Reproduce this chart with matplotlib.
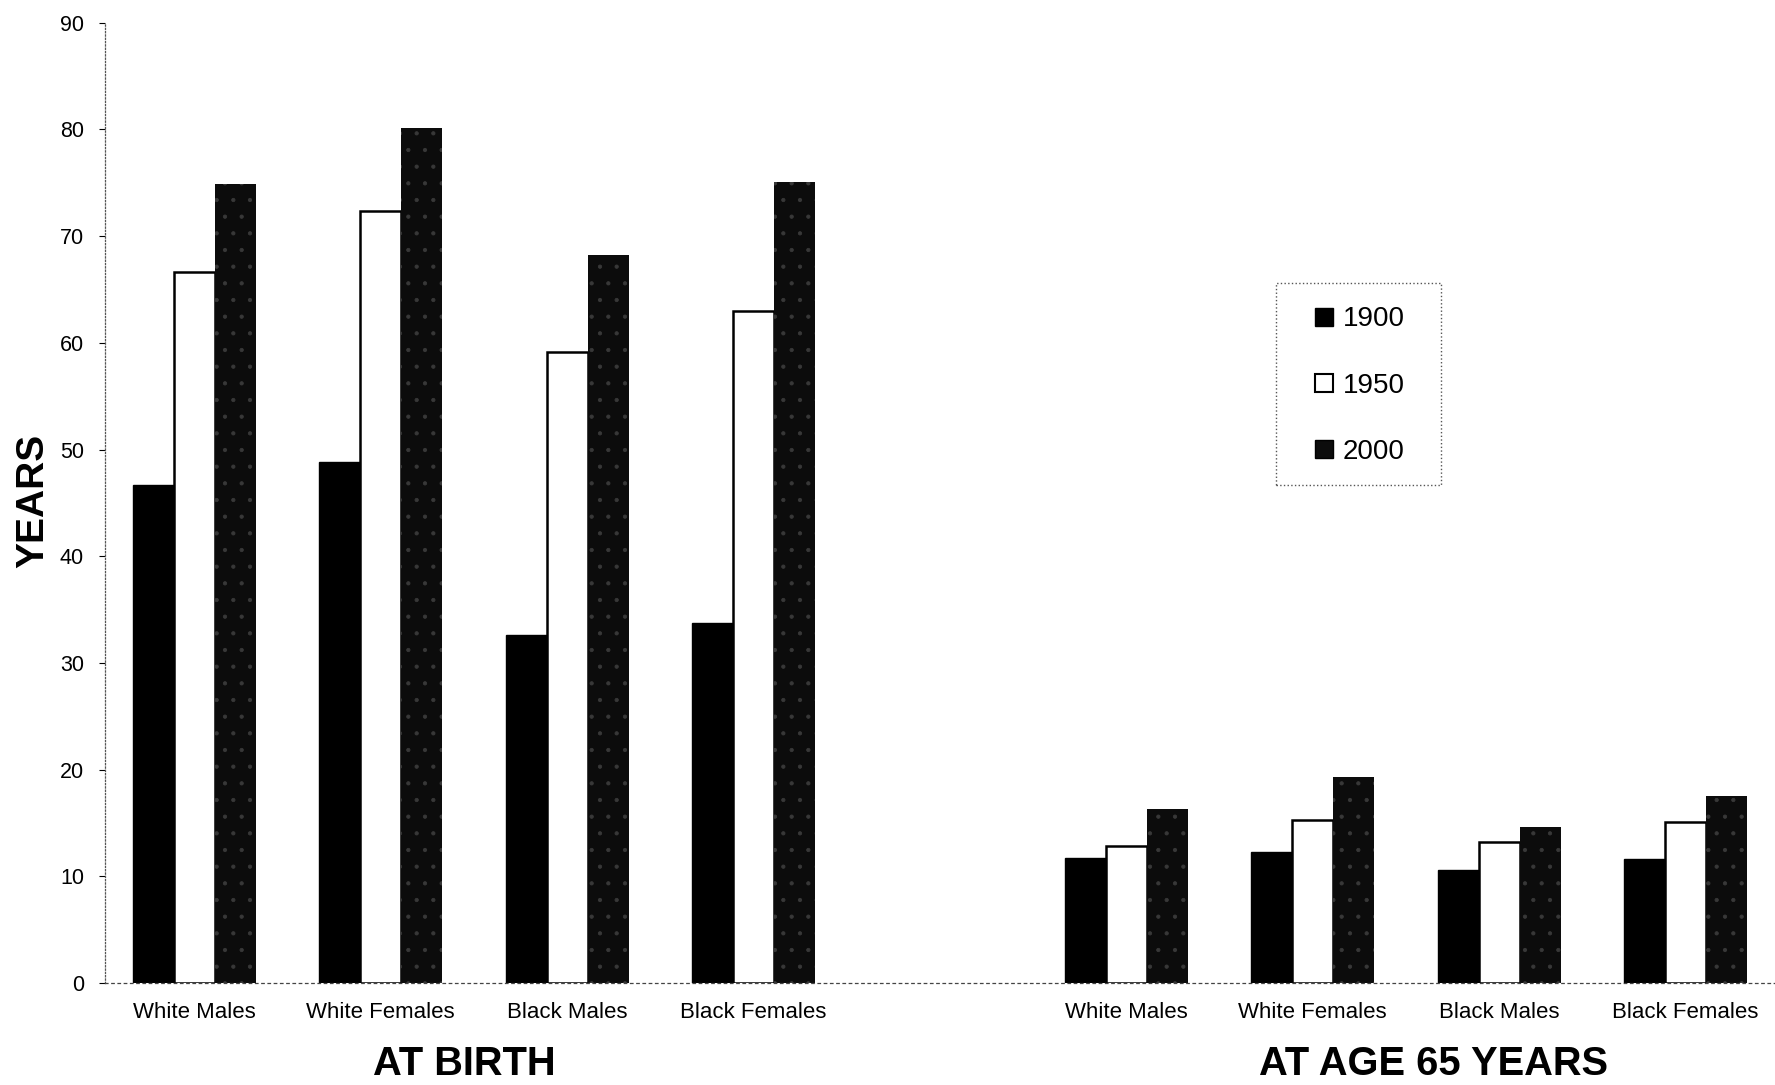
import matplotlib
matplotlib.use("Agg")
import matplotlib.pyplot as plt
from matplotlib.lines import Line2D
from matplotlib.patches import Rectangle
import matplotlib.transforms as mtransforms
import numpy as np

plt.rcParams['font.family'] = ['Liberation Sans', 'DejaVu Sans']
plt.rcParams['hatch.linewidth'] = 0.6

# life expectancy, years
groups = ["White Males", "White Females", "Black Males", "Black Females"]
sections = ["AT BIRTH", "AT AGE 65 YEARS"]
years = ["1900", "1950", "2000"]

birth_1900 = [46.7, 48.8, 32.6, 33.7]
birth_1950 = [66.6, 72.4, 59.1, 63.0]
birth_2000 = [74.9, 80.1, 68.2, 75.1]

age65_1900 = [11.7, 12.3, 10.6, 11.6]
age65_1950 = [12.8, 15.3, 13.2, 15.1]
age65_2000 = [16.3, 19.3, 14.6, 17.5]

yticks = [0, 10, 20, 30, 40, 50, 60, 70, 80, 90]

fig = plt.figure(figsize=(17.75, 10.85), dpi=100)
ax = fig.add_axes([0.059, 0.094, 0.941, 0.885])

# birth groups in slots 0..3, age 65 groups in slots 5..8
x_birth = np.arange(len(groups))
x_65 = np.arange(len(groups)) + len(groups) + 1
w = 0.22

styles = [
    dict(facecolor='black', edgecolor='black', linewidth=1.0),
    dict(facecolor='white', edgecolor='black', linewidth=1.8),
    dict(facecolor='#0c0c0c', edgecolor='#383838', linewidth=0.0, hatch='.'),
]

series_birth = [birth_1900, birth_1950, birth_2000]
series_65 = [age65_1900, age65_1950, age65_2000]
for i in range(3):
    off = (i - 1) * w
    ax.bar(x_birth + off, series_birth[i], w, **styles[i])
    ax.bar(x_65 + off, series_65[i], w, **styles[i])

ax.set_xlim(-0.48, 8.48)
ax.set_ylim(0, 90)
ax.set_yticks(yticks)
ax.set_yticklabels([str(t) for t in yticks], fontsize=15.5)
ax.tick_params(axis='y', length=4, width=0.8, pad=11)

ax.set_xticks(list(x_birth) + list(x_65))
ax.set_xticklabels(groups + groups, fontsize=16)
ax.tick_params(axis='x', length=0, pad=14)

for s in ['top', 'right']:
    ax.spines[s].set_visible(False)
ax.spines['left'].set_linestyle(':')
ax.spines['left'].set_linewidth(0.9)
ax.spines['left'].set_color('#555555')
ax.spines['bottom'].set_linestyle((0, (2, 3)))
ax.spines['bottom'].set_linewidth(0.9)
ax.spines['bottom'].set_color('#444444')

ax.set_ylabel("YEARS", fontsize=28, fontweight='bold')
ax.yaxis.set_label_coords(-0.032, 0.502)

trans = mtransforms.blended_transform_factory(ax.transData, ax.transAxes)
ax.text(1.45, -0.0955, sections[0], transform=trans, ha='center', va='baseline',
        fontsize=28.7, fontweight='bold')
ax.text(6.65, -0.0955, sections[1], transform=trans, ha='center', va='baseline',
        fontsize=28.7, fontweight='bold')

# legend box drawn by hand, entries without frame
ax.add_patch(Rectangle((0.7014, 0.519), 0.0986, 0.210, transform=ax.transAxes,
                       facecolor='white', edgecolor='#555555', linestyle=':',
                       linewidth=1.0, zorder=4))
handles = [
    Line2D([0], [0], marker='s', linestyle='none', markersize=13,
           markerfacecolor='black', markeredgecolor='black', label=years[0]),
    Line2D([0], [0], marker='s', linestyle='none', markersize=13,
           markerfacecolor='white', markeredgecolor='black', markeredgewidth=1.5,
           label=years[1]),
    Line2D([0], [0], marker='s', linestyle='none', markersize=13,
           markerfacecolor='#0c0c0c', markeredgecolor='black', label=years[2]),
]
leg = ax.legend(handles=handles, loc='center', bbox_to_anchor=(0.7513, 0.622),
                fontsize=20, labelspacing=1.45, handlelength=0.7, handletextpad=0.3,
                borderpad=0.0, borderaxespad=0.0, frameon=False)
leg.set_zorder(5)

fig.savefig("out.png", dpi=100)
